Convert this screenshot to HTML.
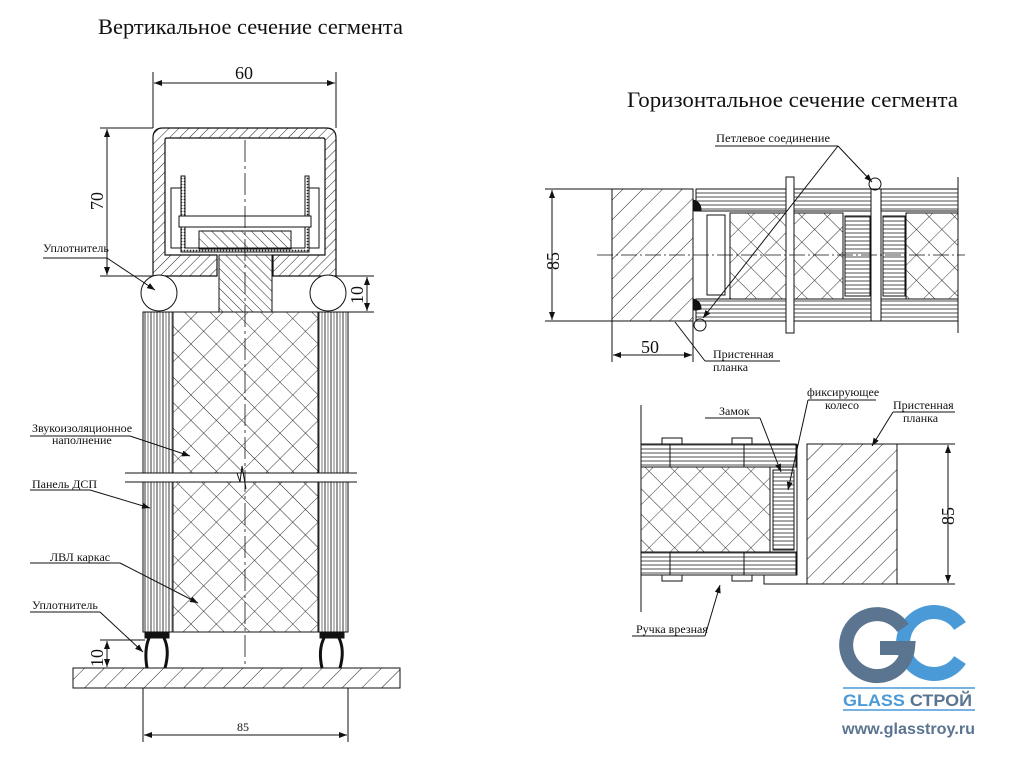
<!DOCTYPE html>
<html><head><meta charset="utf-8"><style>
html,body{margin:0;padding:0;background:#fff}
svg{display:block}
text{font-family:"Liberation Serif","DejaVu Serif",serif;fill:#111}
.s{font-size:12px}
</style></head><body>
<svg width="1024" height="768" viewBox="0 0 1024 768" xmlns="http://www.w3.org/2000/svg">
<defs>
<pattern id="hatch" width="7" height="7" patternUnits="userSpaceOnUse" patternTransform="rotate(45)"><line x1="0" y1="0" x2="0" y2="7" stroke="#222" stroke-width="1"/></pattern>
<pattern id="hatchW" width="14" height="14" patternUnits="userSpaceOnUse" patternTransform="rotate(45)"><line x1="0" y1="0" x2="0" y2="14" stroke="#222" stroke-width="1"/></pattern>
<pattern id="hatchN" width="7" height="7" patternUnits="userSpaceOnUse" patternTransform="rotate(-45)"><line x1="0" y1="0" x2="0" y2="7" stroke="#222" stroke-width="1"/></pattern>
<pattern id="cross" width="18" height="18" patternUnits="userSpaceOnUse" patternTransform="rotate(45)"><line x1="0" y1="0" x2="0" y2="18" stroke="#222" stroke-width="0.9"/><line x1="0" y1="0" x2="18" y2="0" stroke="#222" stroke-width="0.9"/></pattern>
<pattern id="vstr" width="6" height="10" patternUnits="userSpaceOnUse"><line x1="1" y1="0" x2="1" y2="10" stroke="#222" stroke-width="0.9"/><line x1="4" y1="0" x2="4" y2="10" stroke="#222" stroke-width="0.6"/></pattern>
<pattern id="hstr" width="10" height="4" patternUnits="userSpaceOnUse"><line x1="0" y1="1" x2="10" y2="1" stroke="#222" stroke-width="0.8"/></pattern>
<pattern id="dots" width="3" height="3" patternUnits="userSpaceOnUse"><rect width="3" height="3" fill="#fff"/><circle cx="1.5" cy="1.5" r="0.9" fill="#222"/></pattern>
<marker id="ar" markerWidth="8" markerHeight="6" refX="8" refY="3" orient="auto-start-reverse" markerUnits="userSpaceOnUse"><path d="M0,0 L8,3 L0,6 z" fill="#111"/></marker>
</defs>

<text x="98" y="34" font-size="22" textLength="305" lengthAdjust="spacingAndGlyphs">Вертикальное сечение сегмента</text>
<text x="627" y="107" font-size="22" textLength="331" lengthAdjust="spacingAndGlyphs">Горизонтальное сечение сегмента</text>

<!-- ============ VERTICAL SECTION ============ -->
<g stroke="#111" fill="none" stroke-width="1">
<line x1="153" y1="72" x2="153" y2="128"/><line x1="336" y1="72" x2="336" y2="128"/>
<line x1="154" y1="83" x2="335" y2="83" marker-start="url(#ar)" marker-end="url(#ar)"/>
<line x1="100" y1="128" x2="153" y2="128"/><line x1="100" y1="276" x2="153" y2="276"/>
<line x1="107" y1="129" x2="107" y2="275" marker-start="url(#ar)" marker-end="url(#ar)"/>
<line x1="336" y1="276" x2="374" y2="276"/><line x1="348" y1="312" x2="374" y2="312"/>
<line x1="367" y1="277" x2="367" y2="311" marker-start="url(#ar)" marker-end="url(#ar)"/>

<path d="M153,276 V138 Q153,128 163,128 H326 Q336,128 336,138 V276 H273 V255 H325 V140 Q325,138 323,138 H167 Q165,138 165,140 V255 H217 V276 Z" fill="url(#hatch)" stroke-width="1.2"/>
<rect x="171" y="188" width="12" height="60" fill="#fff"/>
<rect x="307" y="188" width="12" height="60" fill="#fff"/>
<path d="M181,176 V252 H309 V176 H305 V248 H185 V176 Z" fill="url(#dots)"/>
<rect x="179" y="216" width="132" height="11" fill="#fff"/>
<rect x="199" y="231" width="92" height="18" fill="url(#hatchN)"/>
<rect x="219" y="255" width="53" height="57" fill="url(#hatchN)"/>
<circle cx="159" cy="293" r="18" fill="#fff"/>
<circle cx="328" cy="293" r="18" fill="#fff"/>
<line x1="107" y1="258" x2="155" y2="290" marker-end="url(#ar)"/>
<line x1="43" y1="258" x2="107" y2="258"/>

<rect x="143" y="312" width="30" height="320" fill="url(#vstr)"/>
<rect x="318" y="312" width="30" height="320" fill="url(#vstr)"/>
<rect x="173" y="312" width="145" height="320" fill="url(#cross)"/>
<rect x="125" y="473" width="232" height="9" fill="#fff" stroke="none"/>
<line x1="125" y1="473" x2="357" y2="473"/><line x1="125" y1="482" x2="357" y2="482"/>
<path d="M237,473 L240,482 L242,466 L246,489" />
<line x1="245" y1="140" x2="245" y2="668" stroke-dasharray="22,4,3,4" stroke-width="0.8"/>
<rect x="145" y="632" width="24" height="6" fill="#111"/>
<rect x="320" y="632" width="24" height="6" fill="#111"/>
<path d="M149,638 Q144,650 147,668 M164,638 Q170,650 165,668" stroke-width="3"/>
<path d="M324,638 Q318,650 322,668 M339,638 Q345,650 340,668" stroke-width="3"/>
<rect x="73" y="668" width="327" height="20" fill="url(#hatchW)"/>
<line x1="100" y1="640" x2="145" y2="640"/>
<line x1="107" y1="641" x2="107" y2="667" marker-start="url(#ar)" marker-end="url(#ar)"/>
<line x1="143" y1="688" x2="143" y2="742"/><line x1="348" y1="688" x2="348" y2="742"/>
<line x1="144" y1="735" x2="347" y2="735" marker-start="url(#ar)" marker-end="url(#ar)"/>

<line x1="30" y1="436" x2="130" y2="436"/><line x1="130" y1="436" x2="190" y2="456" marker-end="url(#ar)"/>
<line x1="30" y1="490" x2="90" y2="490"/><line x1="90" y1="490" x2="150" y2="508" marker-end="url(#ar)"/>
<line x1="30" y1="563" x2="120" y2="563"/><line x1="120" y1="563" x2="198" y2="603" marker-end="url(#ar)"/>
<line x1="30" y1="612" x2="100" y2="612"/><line x1="100" y1="612" x2="143" y2="652" marker-end="url(#ar)"/>
</g>
<text x="235" y="79" font-size="18">60</text>
<text x="103" y="210" font-size="18" transform="rotate(-90 103 210)">70</text>
<text x="363" y="304" font-size="18" transform="rotate(-90 363 304)">10</text>
<text x="103" y="667" font-size="18" transform="rotate(-90 103 667)">10</text>
<text x="237" y="731" font-size="12">85</text>
<text x="43" y="252" class="s">Уплотнитель</text>
<text x="32" y="432" class="s">Звукоизоляционное</text>
<text x="52" y="444" class="s">наполнение</text>
<text x="32" y="488" class="s">Панель ДСП</text>
<text x="50" y="561" class="s">ЛВЛ каркас</text>
<text x="32" y="609" class="s">Уплотнитель</text>

<!-- ============ HORIZONTAL TOP ============ -->
<g stroke="#111" fill="none" stroke-width="1">
<rect x="612" y="189" width="81" height="132" fill="url(#hatchW)"/>
<rect x="696" y="189" width="262" height="22" fill="url(#hstr)"/>
<rect x="696" y="299" width="262" height="22" fill="url(#hstr)"/>
<rect x="707" y="215" width="18" height="80" fill="#fff"/>
<rect x="730" y="213" width="113" height="86" fill="url(#cross)"/>
<rect x="845" y="216" width="25" height="80" fill="url(#hstr)"/>
<rect x="883" y="216" width="22" height="80" fill="url(#hstr)"/>
<rect x="906" y="213" width="52" height="86" fill="url(#cross)"/>
<rect x="871" y="189" width="10" height="132" fill="#fff"/>
<rect x="786" y="177" width="8" height="156" fill="#fff"/>
<line x1="786" y1="177" x2="786" y2="333"/><line x1="794" y1="177" x2="794" y2="333"/>
<line x1="958" y1="177" x2="958" y2="333"/>
<path d="M693,200 q8,2 8,10 q-8,2 -8,0 Z M693,299 q8,2 8,10 q-8,2 -8,0 Z" fill="#111"/>
<circle cx="875" cy="184" r="6"/><circle cx="700" cy="325" r="6"/>
<line x1="597" y1="255" x2="965" y2="255" stroke-dasharray="16,3,2,3" stroke-width="0.8"/>
<line x1="545" y1="189" x2="612" y2="189"/><line x1="545" y1="321" x2="612" y2="321"/>
<line x1="552" y1="190" x2="552" y2="320" marker-start="url(#ar)" marker-end="url(#ar)"/>
<line x1="612" y1="321" x2="612" y2="362"/><line x1="693" y1="321" x2="693" y2="362"/>
<line x1="613" y1="355" x2="692" y2="355" marker-start="url(#ar)" marker-end="url(#ar)"/>
<line x1="715" y1="146" x2="838" y2="146"/>
<line x1="838" y1="146" x2="872" y2="182" marker-end="url(#ar)"/>
<line x1="838" y1="146" x2="703" y2="318" marker-end="url(#ar)"/>
<line x1="705" y1="361" x2="780" y2="361"/>
<line x1="705" y1="361" x2="675" y2="322"/>
</g>
<text x="533" y="266" font-size="18" transform="rotate(-90 548 255)">85</text>
<text x="641" y="353" font-size="18">50</text>
<text x="716" y="142" class="s" textLength="114" lengthAdjust="spacingAndGlyphs">Петлевое соединение</text>
<text x="713" y="358" class="s">Пристенная</text>
<text x="713" y="371" class="s">планка</text>

<!-- ============ HORIZONTAL BOTTOM ============ -->
<g stroke="#111" fill="none" stroke-width="1">
<line x1="641" y1="405" x2="641" y2="612"/>
<rect x="641" y="444" width="155" height="23" fill="url(#hstr)"/>
<rect x="641" y="552" width="155" height="23" fill="url(#hstr)"/>
<rect x="641" y="467" width="129" height="85" fill="url(#cross)"/>
<rect x="773" y="470" width="21" height="80" fill="url(#hstr)"/>
<path d="M662,444 v-6 h20 v6 M732,444 v-6 h20 v6 M662,575 v6 h20 v-6 M732,575 v6 h20 v-6"/>
<line x1="670" y1="444" x2="670" y2="467"/><line x1="744" y1="444" x2="744" y2="467"/>
<line x1="670" y1="552" x2="670" y2="575"/><line x1="744" y1="552" x2="744" y2="575"/>
<path d="M797,444 V575 H764 V584 H807"/>
<rect x="807" y="444" width="90" height="140" fill="url(#hatchW)"/>
<line x1="897" y1="444" x2="955" y2="444"/><line x1="897" y1="584" x2="955" y2="584"/>
<line x1="948" y1="445" x2="948" y2="583" marker-start="url(#ar)" marker-end="url(#ar)"/>
<line x1="705" y1="418" x2="760" y2="418"/><line x1="760" y1="418" x2="781" y2="472" marker-end="url(#ar)"/>
<line x1="808" y1="400" x2="876" y2="400"/><line x1="808" y1="400" x2="788" y2="490" marker-end="url(#ar)"/>
<line x1="893" y1="412" x2="955" y2="412"/><line x1="893" y1="412" x2="872" y2="446" marker-end="url(#ar)"/>
<line x1="632" y1="636" x2="705" y2="636"/><line x1="705" y1="636" x2="720" y2="585" marker-end="url(#ar)"/>
</g>
<text x="719" y="415" class="s">Замок</text>
<text x="807" y="396" class="s">фиксирующее</text>
<text x="825" y="409" class="s">колесо</text>
<text x="893" y="409" class="s">Пристенная</text>
<text x="903" y="422" class="s">планка</text>
<text x="636" y="633" class="s">Ручка врезная</text>
<text x="931" y="526" font-size="18" transform="rotate(-90 942 514)">85</text>

<!-- ============ LOGO ============ -->
<g fill="none" stroke-width="14">
<path d="M960,626 A31,31 0 1 0 960,660" stroke="#4a9ad8"/>
<path d="M903,628 A31,31 0 1 0 908,648 H880" stroke="#5b7591"/>
</g>
<line x1="843" y1="688" x2="975" y2="688" stroke="#4a9ad8" stroke-width="1.5"/>
<line x1="843" y1="710" x2="975" y2="710" stroke="#4a9ad8" stroke-width="1.5"/>
<text x="843" y="706" font-weight="bold" font-size="17" textLength="129" lengthAdjust="spacingAndGlyphs" style="font-family:'Liberation Sans',sans-serif;fill:#4a9ad8">GLASS <tspan style="fill:#5b7591">СТРОЙ</tspan></text>
<text x="842" y="734" style="font-family:'Liberation Sans',sans-serif;fill:#5b7591;font-weight:bold" font-size="16" textLength="133" lengthAdjust="spacingAndGlyphs">www.glasstroy.ru</text>
</svg>
</body></html>
